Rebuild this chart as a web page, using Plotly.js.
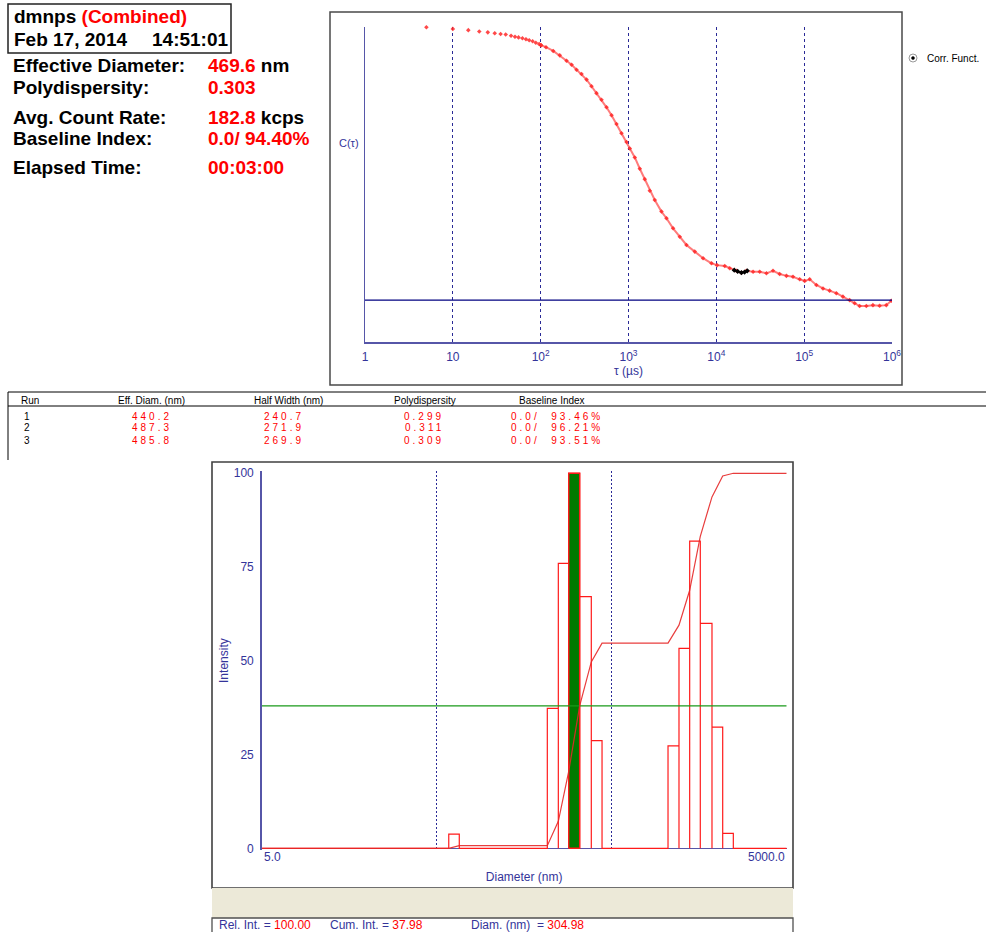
<!DOCTYPE html>
<html><head><meta charset="utf-8">
<script src="https://cdn.plot.ly/plotly-3.0.1.min.js"></script>
<style>html,body{margin:0;padding:0;background:#fff;} #chart{width:986px;height:932px;}</style>
</head><body><div id="chart"></div>
<script>
// ---------- summary block ----------
const sampleName = 'dmnps';
const sampleTag = '(Combined)';
const measDate = 'Feb 17, 2014';
const measTime = '14:51:01';
const summaryLabels = ['Effective Diameter:', 'Polydispersity:', 'Avg. Count Rate:', 'Baseline Index:', 'Elapsed Time:'];
const summaryValues = ['469.6', '0.303', '182.8', '0.0/ 94.40%', '00:03:00'];
const summaryUnits = [' nm', '', ' kcps', '', ''];

// ---------- correlation function (top) ----------
const corrTau = [5,10,15,20,25,30,35,40,46,51,56,62,68,74,81,88,96,101,
  115,139,165,197,225,256,292,333,379,432,
  493,562,641,730,832,949,1035,1180,1345,1531,
  1746,1991,2374,2706,3217,3834,4570,5680,7060,8800,
  10190,12470,14200,16930,19300,22000,26200,31200,37200,44200,
  52600,62800,74600,88900,101400,115600,137700,163700,195000,232300,
  276300,329300,375500,427800,510100,606600,722500,861300,982000];
const corrVal = [0.999,0.994,0.990,0.986,0.983,0.980,0.978,0.976,0.972,0.969,0.967,0.964,0.961,0.958,0.955,0.950,0.946,0.942,
  0.936,0.924,0.910,0.893,0.880,0.864,0.851,0.833,0.812,0.790,
  0.769,0.745,0.720,0.692,0.663,0.635,0.614,0.586,0.550,0.517,
  0.480,0.451,0.414,0.393,0.361,0.334,0.308,0.287,0.266,0.250,
  0.244,0.241,0.234,0.226,0.220,0.226,0.223,0.223,0.218,0.226,
  0.216,0.210,0.207,0.199,0.194,0.199,0.181,0.170,0.163,0.155,
  0.144,0.133,0.123,0.114,0.114,0.117,0.115,0.117,0.131];
const fitTau = [16000,17500,19300,21000,22500];
const fitVal = [0.228,0.224,0.220,0.222,0.226];
const baselineLevel = 0.133;
const tauTickVals = [1,10,100,1000,10000,100000,1000000];
const tauTickText = ['1','10','10<sup>2</sup>','10<sup>3</sup>','10<sup>4</sup>','10<sup>5</sup>','10<sup>6</sup>'];

// ---------- run table ----------
const tableHeaders = ['Run','Eff. Diam. (nm)','Half Width (nm)','Polydispersity','Baseline Index'];
const runIds = ['1','2','3'];
const runEffDiam = ['440.2','487.3','485.8'];
const runHalfWidth = ['240.7','271.9','269.9'];
const runPoly = ['0.299','0.311','0.309'];
const runBaseline = ['0.0/  93.46%','0.0/  96.21%','0.0/  93.51%'];

// ---------- size distribution (bottom) ----------
const binLo = [58.6, 214.3, 247.7, 284.0, 328.0, 382.3, 1049, 1212, 1395, 1604, 1871, 2154];
const binHi = [67.3, 247.7, 284.0, 328.0, 382.3, 440.3, 1212, 1395, 1604, 1871, 2154, 2477];
const intensity = [3.8, 37.3, 76.0, 100, 67.1, 28.7, 27.3, 53.3, 81.9, 60.0, 32.3, 4.0];
const cumDiam = [5, 58.6, 67.3, 214.3, 247.7, 284.0, 328.0, 382.3, 440.3, 1049, 1212, 1395, 1604, 1871, 2154, 2477, 5000];
const cumInt  = [0, 0, 0.7, 0.7, 7.2, 20.5, 38.0, 49.7, 54.7, 54.7, 59.5, 68.8, 83.2, 93.7, 99.3, 100, 100];
const selRelInt = '100.00', selCumInt = 37.98, selDiam = 304.98;
const diamMin = 5.0, diamMax = 5000.0;
const diamGrid = [50, 500, 5000];
const intTicks = [0, 25, 50, 75, 100];

// ---------- helpers ----------
const W = 986, H = 932;
const px = x => x / W;
const py = y => 1 - y / H;
const FONT = 'Liberation Sans, Arial, sans-serif';
const BLUE = '#34349a';
const RED = '#ff1a1a';

const traces = [];
const split = corrTau.findIndex(t => t >= 100);
traces.push({x: corrTau.slice(0, split + 1), y: corrVal.slice(0, split + 1), xaxis: 'x', yaxis: 'y',
  mode: 'markers', cliponaxis: false, marker: {symbol: 'diamond', size: 3.5, color: 'rgba(255,40,40,0.85)'}, hoverinfo: 'skip'});
traces.push({x: corrTau.slice(split), y: corrVal.slice(split), xaxis: 'x', yaxis: 'y',
  mode: 'lines+markers', line: {color: 'rgba(255,100,100,0.85)', width: 2},
  marker: {symbol: 'diamond', size: 3.5, color: 'rgba(255,40,40,0.85)'}, hoverinfo: 'skip'});
traces.push({x: fitTau, y: fitVal, xaxis: 'x', yaxis: 'y', mode: 'lines+markers',
  line: {color: '#000', width: 2}, marker: {symbol: 'diamond', size: 4, color: '#000'}, hoverinfo: 'skip'});
traces.push({x: [tauTickVals[0], tauTickVals[tauTickVals.length - 1]], y: [baselineLevel, baselineLevel],
  xaxis: 'x', yaxis: 'y', mode: 'lines', line: {color: '#000080', width: 1.2}, hoverinfo: 'skip'});

const hx = [diamMin], hy = [0];
for (let i = 0; i < binLo.length; i++) {
  hx.push(binLo[i], binLo[i], binHi[i], binHi[i]);
  hy.push(0, intensity[i], intensity[i], 0);
}
hx.push(diamMax); hy.push(0);
traces.push({x: hx, y: hy, xaxis: 'x2', yaxis: 'y2', mode: 'lines', line: {color: RED, width: 1.2}, hoverinfo: 'skip'});
const sel = binLo.findIndex((lo, i) => selDiam >= lo && selDiam < binHi[i]);
traces.push({x: [binLo[sel], binLo[sel], binHi[sel], binHi[sel], binLo[sel]], y: [0, intensity[sel], intensity[sel], 0, 0],
  xaxis: 'x2', yaxis: 'y2', mode: 'lines', fill: 'toself', fillcolor: '#007a00', line: {color: RED, width: 1.4}, hoverinfo: 'skip'});
traces.push({x: [diamMin, diamMax], y: [selCumInt, selCumInt], xaxis: 'x2', yaxis: 'y2', mode: 'lines',
  line: {color: '#1a9a1a', width: 1.2}, hoverinfo: 'skip'});
traces.push({x: cumDiam, y: cumInt, xaxis: 'x2', yaxis: 'y2', mode: 'lines',
  line: {color: 'rgba(230,40,40,0.9)', width: 1.2}, hoverinfo: 'skip'});

const ann = [];
function T(x, y, text, opt) {
  ann.push(Object.assign({xref: 'paper', yref: 'paper', x: px(x), y: py(y), text: text, showarrow: false,
    xanchor: 'left', yanchor: 'middle', font: {family: FONT, size: 11, color: '#000'}}, opt || {}));
}
T(12, 17, '<b>' + sampleName + ' <span style="color:#ff0000">' + sampleTag + '</span></b>', {font: {family: FONT, size: 19, color: '#000'}});
T(12, 39, '<b>' + measDate + '</b>', {font: {family: FONT, size: 19, color: '#000'}});
T(150, 39, '<b>' + measTime + '</b>', {font: {family: FONT, size: 19, color: '#000'}});
const sumY = [66, 87, 117, 139, 168];
summaryLabels.forEach((l, i) => {
  T(11, sumY[i], '<b>' + l + '</b>', {font: {family: FONT, size: 19, color: '#000'}});
  T(206, sumY[i], '<b><span style="color:#ff0000">' + summaryValues[i] + '</span>' + summaryUnits[i] + '</b>', {font: {family: FONT, size: 19, color: '#000'}});
});
T(349, 143, 'C(τ)', {xanchor: 'center', font: {family: FONT, size: 11, color: BLUE}});
T(925, 58, 'Corr. Funct.', {font: {family: FONT, size: 10, color: '#000'}});
const hdrX = [19, 151, 288, 425, 552];
tableHeaders.forEach((h, i) => T(hdrX[i], 400, h, {xanchor: i === 0 ? 'left' : 'center', font: {family: FONT, size: 10, color: '#000'}}));
const rowY = [416, 428, 440];
const LS = s => '<span style="letter-spacing:3px">' + s + '</span>';
runIds.forEach((r, i) => {
  T(27, rowY[i], r, {xanchor: 'center', font: {family: FONT, size: 10, color: '#000'}});
  T(152, rowY[i], LS(runEffDiam[i]), {xanchor: 'center', font: {family: FONT, size: 10, color: '#ff0000'}});
  T(284, rowY[i], LS(runHalfWidth[i]), {xanchor: 'center', font: {family: FONT, size: 10, color: '#ff0000'}});
  T(424, rowY[i], LS(runPoly[i]), {xanchor: 'center', font: {family: FONT, size: 10, color: '#ff0000'}});
  T(509, rowY[i], LS(runBaseline[i]), {font: {family: FONT, size: 10, color: '#ff0000'}});
});
ann.push({xref: 'x2', yref: 'paper', x: Math.log10(diamMin), y: py(857), text: diamMin.toFixed(1), showarrow: false,
  xanchor: 'left', yanchor: 'middle', font: {family: FONT, size: 12, color: BLUE}});
ann.push({xref: 'x2', yref: 'paper', x: Math.log10(diamMax), y: py(857), text: diamMax.toFixed(1), showarrow: false,
  xanchor: 'right', yanchor: 'middle', font: {family: FONT, size: 12, color: BLUE}});
T(217, 925, 'Rel. Int. = <span style="color:#ff0000">' + selRelInt + '</span>', {font: {family: FONT, size: 12, color: BLUE}});
T(328, 925, 'Cum. Int. = <span style="color:#ff0000">' + selCumInt.toFixed(2) + '</span>', {font: {family: FONT, size: 12, color: BLUE}});
T(469, 925, 'Diam. (nm)  = <span style="color:#ff0000">' + selDiam.toFixed(2) + '</span>', {font: {family: FONT, size: 12, color: BLUE}});

const shapes = [];
function R(x0, y0, x1, y1, opt) {
  shapes.push(Object.assign({type: 'rect', xref: 'paper', yref: 'paper', x0: px(x0), y0: py(y0), x1: px(x1), y1: py(y1),
    line: {color: '#404040', width: 1.5}, layer: 'below'}, opt || {}));
}
function L(x0, y0, x1, y1, opt) {
  shapes.push(Object.assign({type: 'line', xref: 'paper', yref: 'paper', x0: px(x0), y0: py(y0), x1: px(x1), y1: py(y1),
    line: {color: '#000', width: 1}}, opt || {}));
}
R(8, 4, 231, 53, {line: {color: '#222', width: 1.5}});
R(330, 12, 902, 385, {line: {color: '#4a4a4a', width: 1.5}});
L(8, 392, 986, 392);
L(8, 406, 986, 406);
L(8, 392, 8, 460);
R(212, 462, 793, 888, {line: {color: '#404040', width: 1.6}});
R(212, 888, 793, 918, {fillcolor: '#ECE9D8', line: {color: '#ECE9D8', width: 0}});
R(212, 918, 793, 934, {fillcolor: '#ffffff', line: {color: '#505050', width: 1.3}});
shapes.push({type: 'circle', xref: 'paper', yref: 'paper', x0: px(909), y0: py(62), x1: px(917), y1: py(54),
  line: {color: '#9a9a9a', width: 1}, fillcolor: '#fff'});
shapes.push({type: 'circle', xref: 'paper', yref: 'paper', x0: px(911.5), y0: py(59.5), x1: px(914.5), y1: py(56.5),
  line: {color: '#000', width: 0.5}, fillcolor: '#000'});

const axLine = '#5656a8';
const layout = {
  width: W, height: H, margin: {l: 0, r: 0, t: 0, b: 0}, paper_bgcolor: '#fff', plot_bgcolor: 'rgba(0,0,0,0)',
  showlegend: false, font: {family: FONT},
  xaxis: {type: 'log', range: [0, 6], domain: [px(365), px(892)], anchor: 'y',
    tickvals: tauTickVals, ticktext: tauTickText, ticks: '', tickfont: {family: FONT, size: 12, color: BLUE},
    ticklabelstandoff: 3,
    showgrid: true, gridcolor: '#2a2a96', griddash: '3px,3px', gridwidth: 1,
    showline: true, linecolor: axLine, linewidth: 1.5, zeroline: false,
    title: {text: 'τ (µs)', font: {family: FONT, size: 12, color: BLUE}, standoff: 3}},
  yaxis: {range: [0, 1], domain: [py(342), py(27)], anchor: 'x', showticklabels: false, ticks: '',
    showgrid: false, zeroline: false, showline: true, linecolor: axLine, linewidth: 1.5},
  xaxis2: {type: 'log', range: [Math.log10(diamMin), Math.log10(diamMax)], domain: [px(261.7), px(786.7)], anchor: 'y2',
    tickvals: diamGrid, showticklabels: false, ticks: '',
    showgrid: true, gridcolor: '#2a2a96', griddash: '2px,2px', gridwidth: 1,
    showline: false, zeroline: false,
    title: {text: 'Diameter (nm)', font: {family: FONT, size: 12, color: BLUE}, standoff: 22}},
  yaxis2: {range: [-0.4, 100.5], domain: [py(849.8), py(471.4)], anchor: 'x2',
    tickvals: intTicks, ticks: '', tickfont: {family: FONT, size: 12, color: BLUE}, ticklabelstandoff: 4,
    showgrid: false, zeroline: true, zerolinecolor: axLine, zerolinewidth: 1.5,
    showline: true, linecolor: axLine, linewidth: 1.5,
    title: {text: 'Intensity', font: {family: FONT, size: 12, color: BLUE}, standoff: 2}},
  annotations: ann, shapes: shapes
};
Plotly.newPlot('chart', traces, layout, {displayModeBar: false, staticPlot: true});
</script></body></html>
